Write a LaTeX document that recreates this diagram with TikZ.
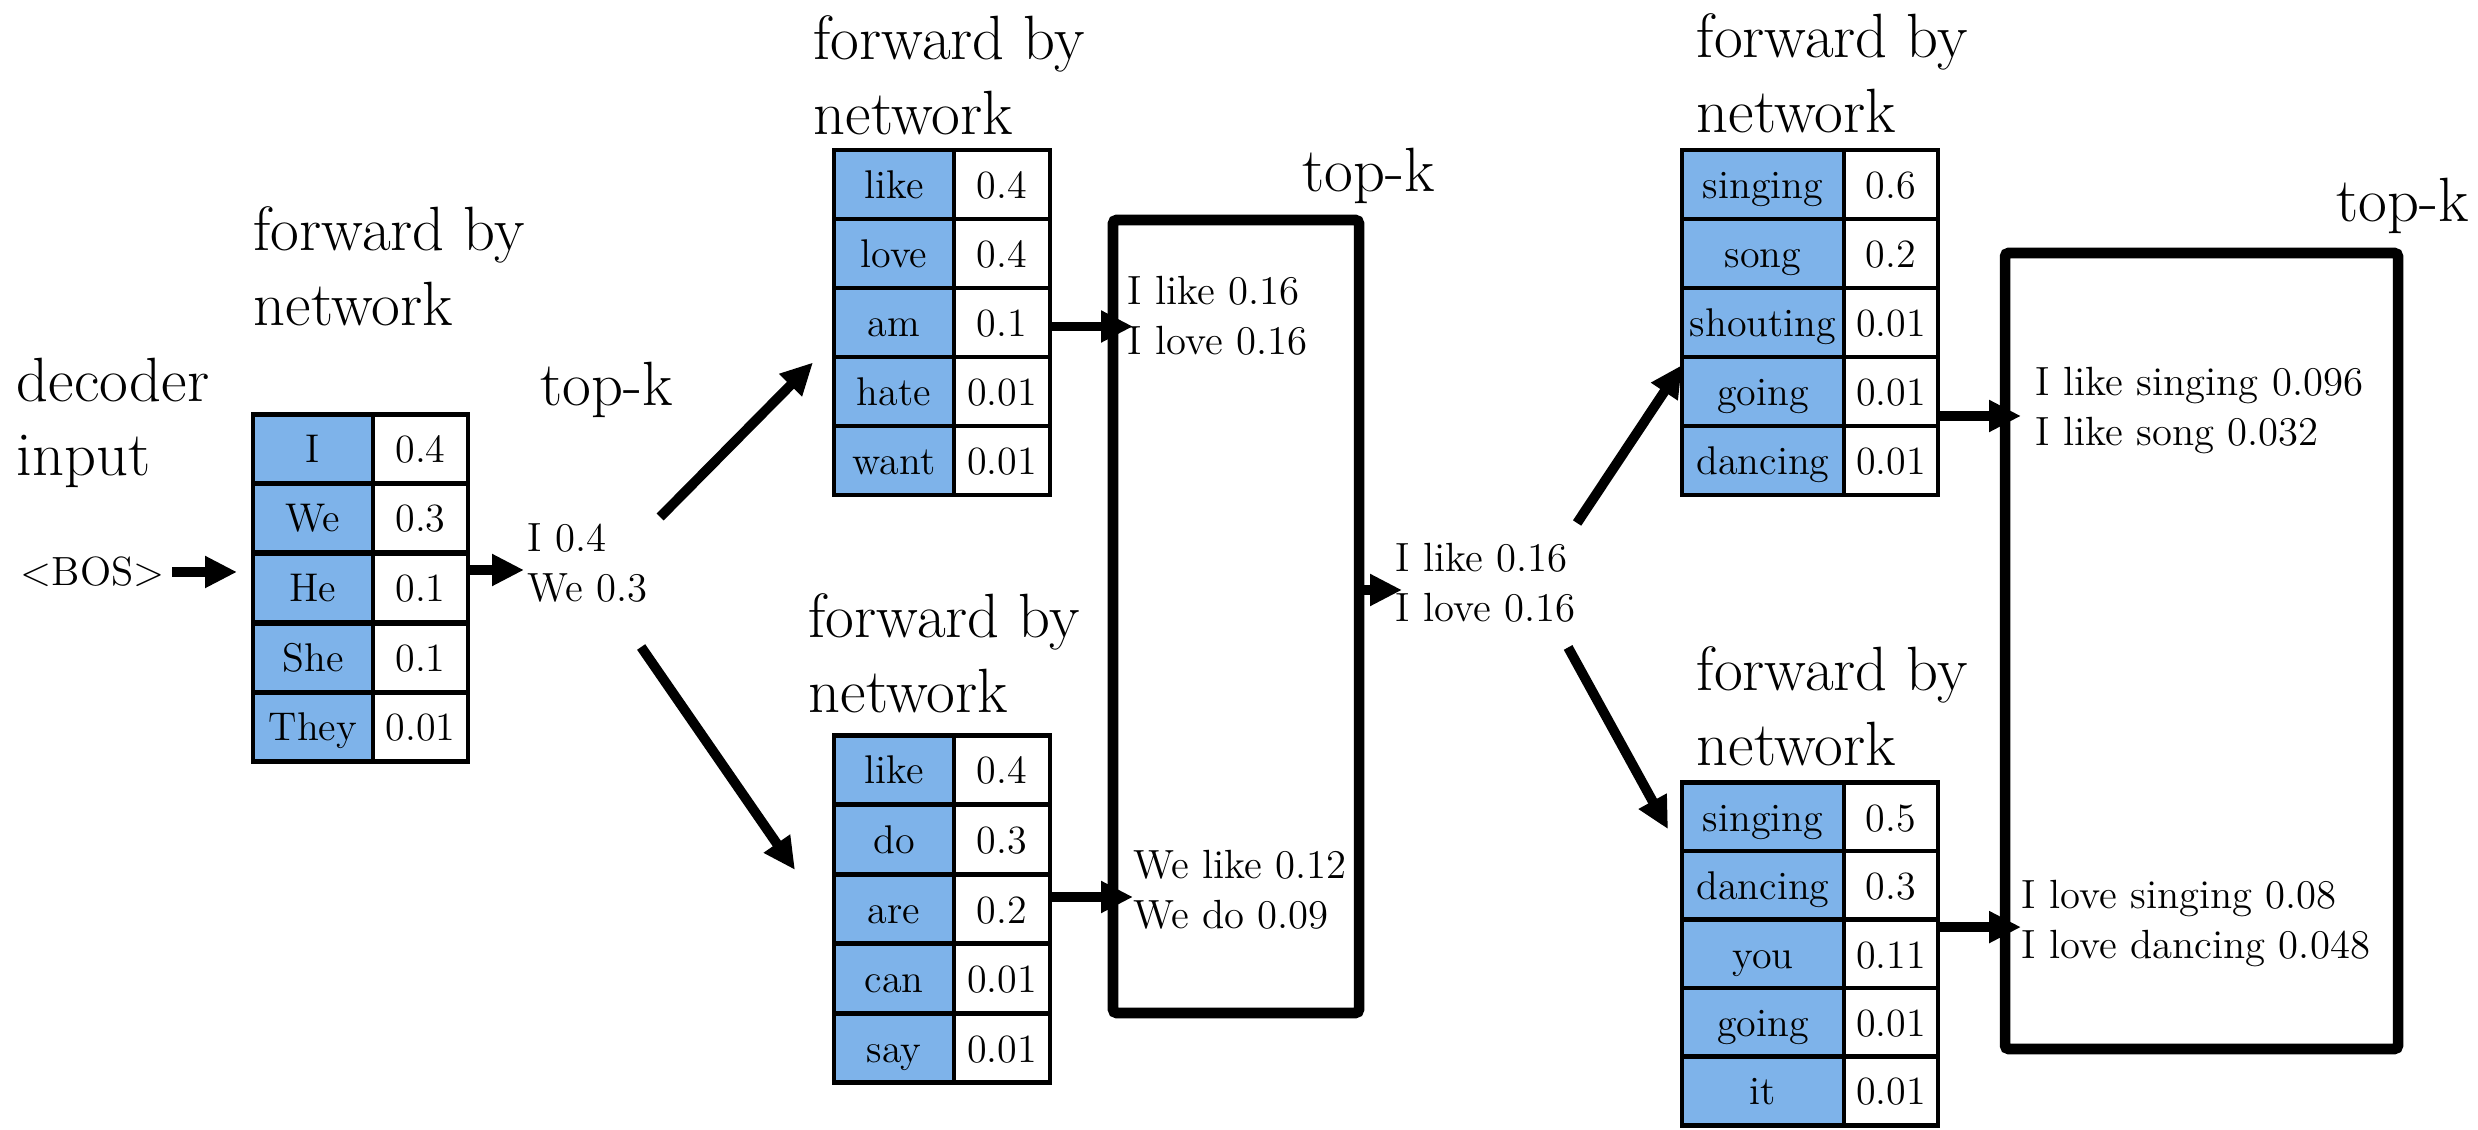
\documentclass[tikz,border=0pt]{standalone}
\usetikzlibrary{arrows.meta}

\definecolor{cellblue}{RGB}{126,179,234}
\newcommand{\labfont}{\fontsize{17.8}{21.3}\selectfont}
\newcommand{\cellfont}{\fontsize{11.4}{14}\selectfont}
\newcommand{\candfont}{\fontsize{11.6}{14.2}\selectfont}

\begin{document}
\begin{tikzpicture}
\tikzset{
    word/.style= {draw=black, fill=cellblue, line width=1.3pt, minimum width=1.2cm, minimum height=0.69cm, inner sep=0pt, outer sep=0pt, text height=0.28cm, text depth=0cm, font=\cellfont},
    prob/.style= {draw=black, fill=white, line width=1.3pt, minimum width=0.95cm, minimum height=0.69cm, inner sep=0pt, outer sep=0pt, text height=0.28cm, text depth=0cm, font=\cellfont},
    title/.style= {align=left, anchor=north west, inner sep=0pt, font=\labfont},
    topk/.style= {anchor=base west, inner sep=0pt, font=\labfont},
    cand/.style= {align=left, anchor=north west, inner sep=0pt, font=\candfont},
    topbox/.style= {draw=black, line width=3pt, rounded corners=1pt, inner sep=0pt, outer sep=0pt},
    arr/.style= {-{Triangle[length=0.32cm,width=0.3cm]}, line width=2.8pt},
}
\useasboundingbox (0,0) rectangle (24.78,11.29);

\node[title] (dec) at (0.16,7.72) {decoder\\input};
\node[anchor=west, inner sep=0pt, font=\candfont] (bos) at (0.20,5.57) {<BOS>};

\node[title] (f1) at (2.53,9.23) {forward by\\network};
\node[word] (t1w1) at (3.13,6.80) {I};
\node[prob] (t1p1) at (4.205,6.80) {0.4};
\node[word] (t1w2) at (3.13,6.11) {We};
\node[prob] (t1p2) at (4.205,6.11) {0.3};
\node[word] (t1w3) at (3.13,5.41) {He};
\node[prob] (t1p3) at (4.205,5.41) {0.1};
\node[word] (t1w4) at (3.13,4.71) {She};
\node[prob] (t1p4) at (4.205,4.71) {0.1};
\node[word] (t1w5) at (3.13,4.02) {They};
\node[prob] (t1p5) at (4.205,4.02) {0.01};

\node[topk] (tk1) at (5.40,7.23) {top-k};
\node[cand] (k1) at (5.27,6.06) {I 0.4\\We 0.3};

\node[title] (f2) at (8.13,11.14) {forward by\\network};
\node[word] (t2w1) at (8.94,9.445) {like};
\node[prob, minimum width=0.96cm] (t2p1) at (10.02,9.445) {0.4};
\node[word] (t2w2) at (8.94,8.755) {love};
\node[prob, minimum width=0.96cm] (t2p2) at (10.02,8.755) {0.4};
\node[word] (t2w3) at (8.94,8.065) {am};
\node[prob, minimum width=0.96cm] (t2p3) at (10.02,8.065) {0.1};
\node[word] (t2w4) at (8.94,7.375) {hate};
\node[prob, minimum width=0.96cm] (t2p4) at (10.02,7.375) {0.01};
\node[word] (t2w5) at (8.94,6.685) {want};
\node[prob, minimum width=0.96cm] (t2p5) at (10.02,6.685) {0.01};

\node[title] (f3) at (8.08,5.36) {forward by\\network};
\node[word] (t3w1) at (8.94,3.592) {like};
\node[prob, minimum width=0.96cm] (t3p1) at (10.02,3.592) {0.4};
\node[word] (t3w2) at (8.94,2.896) {do};
\node[prob, minimum width=0.96cm] (t3p2) at (10.02,2.896) {0.3};
\node[word] (t3w3) at (8.94,2.20) {are};
\node[prob, minimum width=0.96cm] (t3p3) at (10.02,2.20) {0.2};
\node[word] (t3w4) at (8.94,1.504) {can};
\node[prob, minimum width=0.96cm] (t3p4) at (10.02,1.504) {0.01};
\node[word] (t3w5) at (8.94,0.808) {say};
\node[prob, minimum width=0.96cm] (t3p5) at (10.02,0.808) {0.01};

\node[topbox, minimum width=2.46cm, minimum height=7.93cm] (box1) at (12.36,5.125) {};
\node[topk] (tk2) at (13.02,9.37) {top-k};
\node[cand] (c1) at (11.27,8.53) {I like 0.16\\I love 0.16};
\node[cand] (c2) at (11.33,2.79) {We like 0.12\\We do 0.09};
\node[cand] (mid) at (13.95,5.86) {I like 0.16\\I love 0.16};

\node[title] (f4) at (16.96,11.16) {forward by\\network};
\node[word, minimum width=1.62cm] (t4w1) at (17.63,9.445) {singing};
\node[prob, minimum width=0.94cm] (t4p1) at (18.91,9.445) {0.6};
\node[word, minimum width=1.62cm] (t4w2) at (17.63,8.755) {song};
\node[prob, minimum width=0.94cm] (t4p2) at (18.91,8.755) {0.2};
\node[word, minimum width=1.62cm] (t4w3) at (17.63,8.065) {shouting};
\node[prob, minimum width=0.94cm] (t4p3) at (18.91,8.065) {0.01};
\node[word, minimum width=1.62cm] (t4w4) at (17.63,7.375) {going};
\node[prob, minimum width=0.94cm] (t4p4) at (18.91,7.375) {0.01};
\node[word, minimum width=1.62cm] (t4w5) at (17.63,6.685) {dancing};
\node[prob, minimum width=0.94cm] (t4p5) at (18.91,6.685) {0.01};

\node[title] (f5) at (16.96,4.83) {forward by\\network};
\node[word, minimum width=1.62cm] (t5w1) at (17.63,3.118) {singing};
\node[prob, minimum width=0.94cm] (t5p1) at (18.91,3.118) {0.5};
\node[word, minimum width=1.62cm] (t5w2) at (17.63,2.434) {dancing};
\node[prob, minimum width=0.94cm] (t5p2) at (18.91,2.434) {0.3};
\node[word, minimum width=1.62cm] (t5w3) at (17.63,1.75) {you};
\node[prob, minimum width=0.94cm] (t5p3) at (18.91,1.75) {0.11};
\node[word, minimum width=1.62cm] (t5w4) at (17.63,1.066) {going};
\node[prob, minimum width=0.94cm] (t5p4) at (18.91,1.066) {0.01};
\node[word, minimum width=1.62cm] (t5w5) at (17.63,0.382) {it};
\node[prob, minimum width=0.94cm] (t5p5) at (18.91,0.382) {0.01};

\node[topbox, minimum width=3.93cm, minimum height=7.96cm] (box2) at (22.015,4.78) {};
\node[topk] (tk3) at (23.36,9.07) {top-k};
\node[cand] (c3) at (20.35,7.62) {I like singing 0.096\\I like song 0.032};
\node[cand] (c4) at (20.21,2.49) {I love singing 0.08\\I love dancing 0.048};

\draw[arr, shorten <=0.07cm, shorten >=0.16cm] (bos.east) -- (bos.east -| t1w3.west);
\draw[arr, shorten >=0.03cm] ([yshift=0.18cm]t1p3.east) -- ([yshift=0.18cm]t1p3.east -| k1.west);
\draw[arr] ([xshift=0.12cm,yshift=0.06cm]k1.north east) -- ([xshift=-0.21cm,yshift=0.29cm]t2w4.west);
\draw[arr] ([xshift=-0.07cm,yshift=-0.44cm]k1.south east) -- ([xshift=-0.39cm,yshift=0.04cm]t3w2.south west);
\draw[arr, shorten >=-0.2cm] ([yshift=-0.04cm]t2p3.east) -- ([yshift=-0.04cm]t2p3.east -| box1.west);
\draw[arr, shorten >=-0.2cm] ([yshift=0.12cm]t3p3.east) -- ([yshift=0.12cm]t3p3.east -| box1.west);
\draw[arr, shorten >=-0.07cm] ([yshift=0.265cm]box1.east) -- ([yshift=0.265cm]box1.east -| mid.west);
\draw[arr] ([xshift=0.01cm,yshift=0.2cm]mid.north east) -- ([yshift=0.265cm]t4w4.west);
\draw[arr] ([xshift=-0.08cm,yshift=-0.24cm]mid.south east) -- ([xshift=-0.14cm,yshift=-0.12cm]t5w1.west);
\draw[arr, shorten >=-0.16cm] ([yshift=-0.245cm]t4p4.east) -- ([yshift=-0.245cm]t4p4.east -| box2.west);
\draw[arr, shorten >=-0.16cm] ([yshift=-0.07cm]t5p2.south east) -- ([yshift=-0.07cm]t5p2.south east -| box2.west);
\end{tikzpicture}
\end{document}
